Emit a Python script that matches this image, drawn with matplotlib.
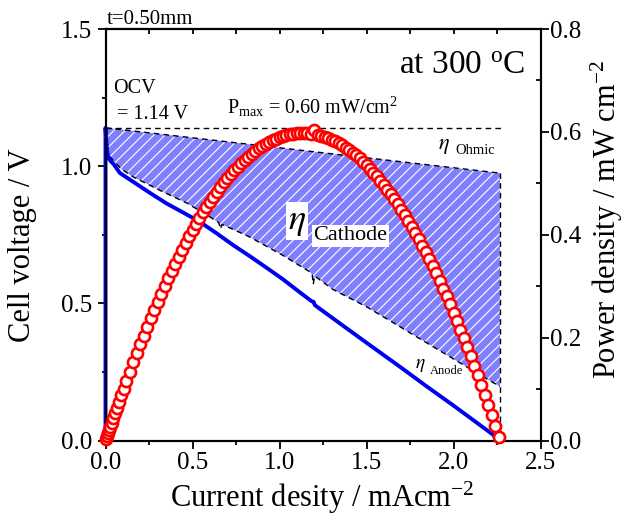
import numpy as np
import matplotlib
matplotlib.use("Agg")
import matplotlib.pyplot as plt
from matplotlib.ticker import MultipleLocator, NullLocator, FormatStrFormatter

plt.rcParams['font.family'] = ['Liberation Serif', 'DejaVu Serif']
plt.rcParams['mathtext.fontset'] = 'stix'
plt.rcParams['hatch.linewidth'] = 0.8
plt.rcParams['hatch.color'] = 'white'

# Measured I-V curve (current density in mA/cm2, cell voltage in V)
iv_current = [0.000, 0.000, 0.004, 0.010, 0.016, 0.030, 0.045, 0.083, 0.160, 0.250,
              0.352, 0.450, 0.543, 0.640, 0.735, 0.830, 0.926, 1.020, 1.118, 1.185,
              1.196, 1.203, 1.233, 1.350, 1.500, 1.693, 1.850, 2.000, 2.150, 2.229, 2.250]
iv_voltage = [0.000, 1.140, 1.100, 1.050, 1.033, 1.018, 1.009, 0.975, 0.943, 0.905,
              0.864, 0.830, 0.797, 0.755, 0.712, 0.672, 0.630, 0.588, 0.540, 0.508,
              0.506, 0.494, 0.480, 0.426, 0.357, 0.269, 0.196, 0.128, 0.058, 0.021, 0.000]

# Power density points (mW/cm2)
pd_current = [0.003, 0.008, 0.014, 0.020, 0.027, 0.035, 0.044, 0.054, 0.065, 0.077,
              0.090, 0.104, 0.120, 0.140, 0.160, 0.18, 0.20, 0.22, 0.24, 0.26,
              0.28, 0.30, 0.32, 0.34, 0.36, 0.38, 0.40, 0.42, 0.44, 0.46,
              0.48, 0.50, 0.52, 0.54, 0.56, 0.58, 0.60, 0.62, 0.64, 0.66,
              0.68, 0.70, 0.72, 0.74, 0.76, 0.78, 0.80, 0.82, 0.84, 0.86,
              0.88, 0.90, 0.92, 0.94, 0.96, 0.98, 1.00, 1.02, 1.04, 1.06,
              1.08, 1.10, 1.12, 1.14, 1.16, 1.18, 1.20, 1.22, 1.24, 1.26,
              1.28, 1.30, 1.32, 1.34, 1.36, 1.38, 1.40, 1.42, 1.44, 1.46,
              1.48, 1.50, 1.52, 1.54, 1.56, 1.58, 1.60, 1.62, 1.64, 1.66,
              1.68, 1.70, 1.72, 1.74, 1.76, 1.78, 1.80, 1.82, 1.84, 1.86,
              1.88, 1.90, 1.92, 1.94, 1.96, 1.98, 2.00, 2.02, 2.04, 2.06,
              2.08, 2.10, 2.12, 2.14, 2.16, 2.18, 2.20, 2.22, 2.24, 2.26]
pd_power = [0.0033, 0.0084, 0.0145, 0.0205, 0.0274, 0.0353, 0.0440, 0.0537, 0.0644, 0.0758,
            0.0880, 0.1011, 0.1157, 0.1340, 0.1520, 0.1697, 0.1871, 0.2043, 0.2211, 0.2377,
            0.2540, 0.2700, 0.2854, 0.3006, 0.3154, 0.3298, 0.3440, 0.3578, 0.3714, 0.3846,
            0.3974, 0.4100, 0.4217, 0.4330, 0.4439, 0.4545, 0.4647, 0.4745, 0.4840, 0.4932,
            0.5019, 0.5103, 0.5182, 0.5257, 0.5328, 0.5396, 0.5460, 0.5520, 0.5577, 0.5630,
            0.5679, 0.5724, 0.5766, 0.5804, 0.5838, 0.5868, 0.5895, 0.5918, 0.5937, 0.5953,
            0.5965, 0.5973, 0.5977, 0.5978, 0.5975, 0.5968, 0.6040, 0.5944, 0.5926, 0.5904,
            0.5879, 0.5850, 0.5817, 0.5781, 0.5741, 0.5697, 0.5649, 0.5598, 0.5543, 0.5484,
            0.5421, 0.5355, 0.5285, 0.5211, 0.5134, 0.5053, 0.4968, 0.4879, 0.4787, 0.4691,
            0.4591, 0.4488, 0.4381, 0.4270, 0.4155, 0.4037, 0.3915, 0.3789, 0.3660, 0.3527,
            0.3390, 0.3249, 0.3105, 0.2957, 0.2805, 0.2649, 0.2490, 0.2327, 0.2160, 0.1990,
            0.1816, 0.1638, 0.1456, 0.1271, 0.1082, 0.0889, 0.0693, 0.0493, 0.0289, 0.0081]

# Open-circuit voltage and the ohmic-loss line
ocv = 1.14
ohmic_current = [0.000, 2.267]
ohmic_voltage = [1.140, 0.975]

# Boundary between cathodic and anodic overpotential
split_current = [0.000, 0.004, 0.012, 0.025, 0.045, 0.090, 0.160, 0.313, 0.467, 0.601,
                 0.650, 0.662, 0.670, 0.830, 1.020, 1.175, 1.188, 1.194, 1.202, 1.310,
                 1.500, 1.693, 1.884, 2.076, 2.267]
split_voltage = [1.140, 1.120, 1.060, 1.035, 1.021, 0.990, 0.961, 0.912, 0.866, 0.815,
                 0.795, 0.772, 0.788, 0.742, 0.675, 0.615, 0.605, 0.570, 0.600, 0.550,
                 0.488, 0.415, 0.342, 0.269, 0.197]

W, H = 628, 515
fig = plt.figure(figsize=(W / 100, H / 100), dpi=100)
ax = fig.add_axes([105.5 / W, 1 - 440.7 / H, 435 / W, 411.7 / H])
ax2 = ax.twinx()

# Cathodic overpotential region
poly_x = list(ohmic_current) + list(split_current[::-1])
poly_y = list(ohmic_voltage) + list(split_voltage[::-1])
ax.fill(poly_x, poly_y, facecolor='#8080ff', edgecolor='white', hatch='///',
        linewidth=0, zorder=1)

dash = dict(color='black', linewidth=1.0, linestyle=(0, (4, 3)), zorder=2)
ax.plot(ohmic_current, ohmic_voltage, **dash)
ax.plot(split_current, split_voltage, **dash)
ax.plot([ohmic_current[-1], ohmic_current[-1]], [0, ohmic_voltage[-1]], **dash)
ax.plot([0, 2.277], [ocv, ocv], **dash)

ax.plot(iv_current, iv_voltage, color='#0000f0', linewidth=2.8, zorder=3,
        clip_on=False, solid_joinstyle='round')

ax2.plot(pd_current, pd_power, 'o', markerfacecolor='white', markeredgecolor='#ff0000',
         markersize=8, markeredgewidth=1.9, clip_on=False, zorder=4)

ax.set_xlim(0, 2.5)
ax.set_ylim(0, 1.5)
ax2.set_ylim(0, 0.8)

ax.xaxis.set_major_locator(MultipleLocator(0.5))
ax.xaxis.set_minor_locator(MultipleLocator(0.25))
ax.yaxis.set_major_locator(MultipleLocator(0.5))
ax.yaxis.set_minor_locator(MultipleLocator(0.25))
ax.tick_params(which='major', direction='out', length=5.8, width=1.3, labelsize=18)
ax.tick_params(which='minor', direction='out', length=3.0, width=1.3)
ax.tick_params(axis='x', which='major', pad=2.6)
ax.tick_params(axis='y', which='major', pad=4.0)
ax.tick_params(top=False, right=False)
ax.xaxis.set_major_formatter(FormatStrFormatter('%.1f'))
ax.yaxis.set_major_formatter(FormatStrFormatter('%.1f'))

top = ax.secondary_xaxis('top')
top.xaxis.set_major_locator(MultipleLocator(0.25))
top.xaxis.set_minor_locator(NullLocator())
top.tick_params(direction='in', length=3.6, width=1.3, labeltop=False)

ax2.yaxis.set_major_locator(MultipleLocator(0.2))
ax2.yaxis.set_minor_locator(MultipleLocator(0.1))
ax2.yaxis.set_major_formatter(FormatStrFormatter('%.1f'))
ax2.tick_params(axis='y', which='major', direction='out', length=5.8, width=1.3,
                labelsize=18, pad=0.8)
ax2.tick_params(axis='y', which='minor', direction='in', length=3.6, width=1.3)

for a in (ax, ax2):
    for s in a.spines.values():
        s.set_linewidth(1.5)
top.spines['top'].set_linewidth(1.5)

# Axis titles
fig.text(23 / W, 1 - 245 / H, 'Cell voltage / V', rotation=90, ha='center',
         va='center', fontsize=22)
fig.text(322 / W, 1 - 507 / H, r'Current desity / mAcm$\mathregular{^{-2}}$',
         ha='center', va='baseline', fontsize=22)
fig.text(607 / W, 1 - 220 / H, r'Power density / mW cm$\mathregular{^{-2}}$',
         rotation=90, ha='center', va='center', fontsize=22)

fig.text(107 / W, 1 - 24 / H, 't=0.50mm', ha='left', va='baseline', fontsize=15)

# Annotations
ax.text(2.411, 1.337, r'at 300 $\mathregular{^{o}}$C', ha='right', va='baseline',
        fontsize=24)
ax.text(0.041, 1.266, 'OCV', ha='left', va='baseline', fontsize=14.5)
ax.text(0.064, 1.173, f'= {ocv:.2f} V', ha='left', va='baseline', fontsize=14.5)
ax.text(0.697, 1.191,
        r'$\mathregular{P_{max}}$' + f' = {max(pd_power):.2f} mW/cm' + r'$\mathregular{^2}$',
        ha='left', va='baseline', fontsize=14.5)

ax.text(1.911, 1.064, r'$\eta$', ha='left', va='baseline', fontsize=16)
ax.text(2.009, 1.046, 'Ohmic', ha='left', va='baseline', fontsize=10.5)

ax.text(1.049, 0.773, r'$\eta$', ha='left', va='baseline', fontsize=26, zorder=5,
        bbox=dict(facecolor='white', edgecolor='none', pad=1.5))
ax.text(1.194, 0.730, 'Cathode', ha='left', va='baseline', fontsize=16, zorder=5,
        bbox=dict(facecolor='white', edgecolor='none', pad=1.0))

ax.text(1.779, 0.265, r'$\eta$', ha='left', va='baseline', fontsize=14)
ax.text(1.865, 0.243, 'Anode', ha='left', va='baseline', fontsize=9)

fig.savefig('out.png', dpi=100)
